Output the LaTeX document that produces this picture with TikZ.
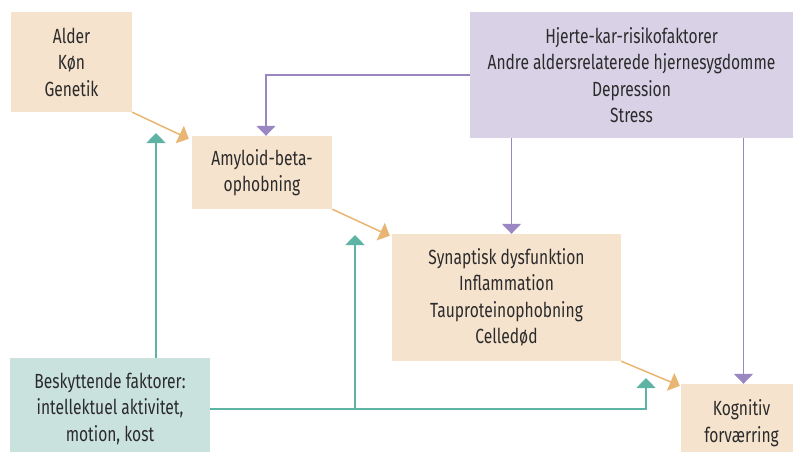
\documentclass[tikz,border=0pt]{standalone}
\usepackage{fontspec}
\setmainfont[FakeStretch=0.76]{Fira Sans}
\usetikzlibrary{arrows.meta}
\definecolor{sand}{HTML}{F6E3CE}
\definecolor{lilac}{HTML}{D9D2E7}
\definecolor{mint}{HTML}{C9E2DE}
\definecolor{ochre}{HTML}{E9B572}
\definecolor{lav}{HTML}{9A87C2}
\definecolor{sea}{HTML}{5DB4A4}
\definecolor{ink}{HTML}{2B2B2B}
\tikzset{
  bx/.style={fill=#1,inner sep=0pt,align=center,text=ink,font=\fontsize{20.5}{26.5}\selectfont},
  arr/.style={-{Triangle[width=19pt,length=10pt]},draw=#1,line width=1.5pt},
}

\begin{document}
\begin{tikzpicture}[x=1pt,y=-1pt]
\path[use as bounding box,clip] (0,0) rectangle (793,452);
\node[bx=sand,minimum width=121pt,minimum height=100pt] (alder) at (71.5,62) {Alder\\Køn\\Genetik};
\node[bx=sand,minimum width=140pt,minimum height=73pt] (amyloid) at (262,172.5) {Amyloid-beta-\\ophobning};
\node[bx=lilac,minimum width=323pt,minimum height=126pt] (risk) at (631.5,75)
  {Hjerte-kar-risikofaktorer\\Andre aldersrelaterede hjernesygdomme\\Depression\\Stress};
\node[bx=sand,minimum width=229pt,minimum height=127pt] (synap) at (506.5,297.5)
  {Synaptisk dysfunktion\\Inflammation\\Tauproteinophobning\\Celledød};
\node[bx=sand,minimum width=121pt,minimum height=78pt] (kogn) at (741.5,423) {Kognitiv\\forværring};
\node[bx=mint,minimum width=200pt,minimum height=102pt] (besk) at (110,409)
  {Beskyttende faktorer:\\intellektuel aktivitet,\\motion, kost};
\coordinate (g1) at (156,133);
\coordinate (g2) at (355,235);
\coordinate (g3) at (646,378);
% the main chain
\draw[arr=ochre] (alder.south east) -- ([xshift=-3pt,yshift=-3pt]amyloid.north west);
\draw[arr=ochre] (amyloid.south east) -- ([xshift=-2pt,yshift=-2pt]synap.north west);
\draw[arr=ochre] (synap.south east) -- ([xshift=-1pt,yshift=-2pt]kogn.north west);
% risk factors
\draw[arr=lav] (risk.west) -| ([xshift=4pt]amyloid.north);
\draw[arr=lav] ([xshift=5pt]synap.north |- risk.south) -- ([xshift=5pt]synap.north);
\draw[arr=lav] ([xshift=2pt]kogn.north |- risk.south) -- ([xshift=2pt]kogn.north);
% protective factors
\draw[arr=sea] (besk.north -| g1) -- (g1);
\draw[arr=sea] (besk.east) -| (g3);
\draw[arr=sea] (besk.east -| g2) -- (g2);
\end{tikzpicture}
\end{document}
